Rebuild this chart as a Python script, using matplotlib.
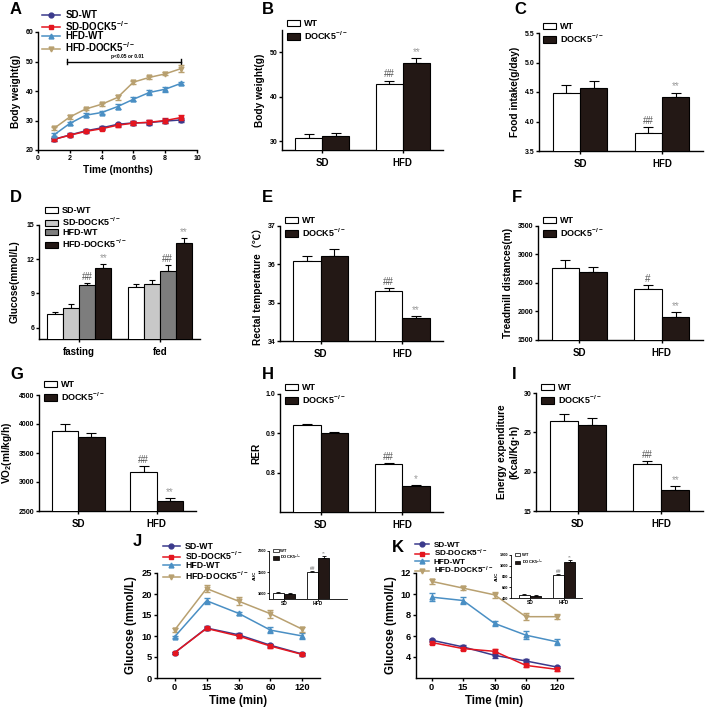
import matplotlib
matplotlib.use("Agg")
import matplotlib.pyplot as plt
from matplotlib.patches import Patch

plt.rcParams['font.family'] = ['Liberation Sans', 'Noto Sans CJK SC', 'DejaVu Sans']
plt.rcParams['font.weight'] = 'bold'
plt.rcParams['axes.labelweight'] = 'bold'
plt.rcParams['mathtext.fontset'] = 'custom'
plt.rcParams['mathtext.rm'] = 'Liberation Sans:bold'
plt.rcParams['mathtext.bf'] = 'Liberation Sans:bold'
plt.rcParams['mathtext.default'] = 'rm'

KO = r'DOCK5$^{-/-}$'

# ---- data ----
months = [1, 2, 3, 4, 5, 6, 7, 8, 9]
bw_sd_wt = [23.6, 25.1, 26.5, 27.5, 28.7, 29.2, 29.3, 29.8, 30.2]
bw_sd_wt_err = [0.4, 0.5, 0.5, 0.5, 0.6, 0.6, 0.9, 0.7, 0.6]
bw_sd_ko = [23.6, 25.0, 26.3, 27.2, 28.4, 29.1, 29.4, 30.0, 31.0]
bw_sd_ko_err = [0.5, 0.5, 0.5, 0.5, 0.5, 0.6, 0.7, 0.7, 0.7]
bw_hfd_wt = [25.1, 29.0, 31.8, 32.7, 34.7, 37.2, 39.5, 40.6, 42.6]
bw_hfd_wt_err = [0.5, 0.6, 0.6, 0.6, 0.8, 0.6, 0.9, 0.9, 0.6]
bw_hfd_ko = [27.3, 31.2, 33.9, 35.5, 37.8, 43.0, 44.6, 45.8, 47.6]
bw_hfd_ko_err = [0.5, 0.8, 0.5, 0.6, 0.8, 0.5, 0.5, 0.5, 1.2]

diets = ['SD', 'HFD']
bw_wt, bw_wt_err = [30.7, 42.8], [0.8, 0.8]
bw_ko, bw_ko_err = [31.1, 47.6], [0.8, 1.0]
food_wt, food_wt_err = [4.48, 3.80], [0.14, 0.11]
food_ko, food_ko_err = [4.56, 4.42], [0.13, 0.07]

states = ['fasting', 'fed']
glu_sd_wt, glu_sd_wt_err = [7.15, 9.58], [0.25, 0.22]
glu_sd_ko, glu_sd_ko_err = [7.72, 9.85], [0.35, 0.30]
glu_hfd_wt, glu_hfd_wt_err = [9.72, 11.0], [0.15, 0.50]
glu_hfd_ko, glu_hfd_ko_err = [11.2, 13.4], [0.40, 0.45]

temp_wt, temp_wt_err = [36.08, 35.30], [0.14, 0.08]
temp_ko, temp_ko_err = [36.22, 34.60], [0.18, 0.04]
dist_wt, dist_wt_err = [2770, 2400], [125, 70]
dist_ko, dist_ko_err = [2700, 1900], [80, 85]
vo2_wt, vo2_wt_err = [3880, 3170], [120, 100]
vo2_ko, vo2_ko_err = [3770, 2680], [70, 45]
rer_wt, rer_wt_err = [0.922, 0.821], [0.002, 0.003]
rer_ko, rer_ko_err = [0.900, 0.767], [0.003, 0.002]
ee_wt, ee_wt_err = [26.4, 21.0], [0.9, 0.35]
ee_ko, ee_ko_err = [25.95, 17.7], [0.85, 0.45]

tt_times = ['0', '15', '30', '60', '120']
gtt_sd_wt = [6.0, 11.9, 10.3, 7.8, 5.7]
gtt_sd_wt_err = [0.3, 0.4, 0.4, 0.4, 0.3]
gtt_sd_ko = [6.0, 11.8, 10.0, 7.6, 5.6]
gtt_sd_ko_err = [0.3, 0.4, 0.5, 0.5, 0.3]
gtt_hfd_wt = [9.8, 18.4, 15.4, 11.4, 10.0]
gtt_hfd_wt_err = [0.3, 0.7, 0.4, 0.7, 0.6]
gtt_hfd_ko = [11.4, 21.3, 18.3, 15.3, 11.6]
gtt_hfd_ko_err = [0.4, 0.8, 0.9, 0.9, 0.6]

itt_sd_wt = [5.6, 4.96, 4.16, 3.62, 3.04]
itt_sd_wt_err = [0.15, 0.15, 0.3, 0.15, 0.12]
itt_sd_ko = [5.38, 4.8, 4.54, 3.2, 2.82]
itt_sd_ko_err = [0.15, 0.15, 0.2, 0.15, 0.12]
itt_hfd_wt = [9.7, 9.38, 7.2, 6.08, 5.44]
itt_hfd_wt_err = [0.35, 0.35, 0.2, 0.4, 0.3]
itt_hfd_ko = [11.2, 10.56, 9.92, 7.84, 7.84]
itt_hfd_ko_err = [0.2, 0.2, 0.3, 0.35, 0.25]

auc_gtt_wt, auc_gtt_wt_err = [1005, 1500], [10, 25]
auc_gtt_ko, auc_gtt_ko_err = [990, 1830], [10, 45]
auc_itt_wt, auc_itt_wt_err = [460, 820], [15, 20]
auc_itt_ko, auc_itt_ko_err = [445, 1070], [15, 30]

# ---- styles ----
W = H = 709
C_SD_WT = '#3b3a8c'
C_SD_KO = '#e4151f'
C_HFD_WT = '#4a8fc4'
C_HFD_KO = '#b8a070'
BLACK_BAR = '#231815'
MARK_DARK = '#555555'
MARK_LIGHT = '#9a9a9a'

fig = plt.figure(figsize=(7.09, 7.09), dpi=100)


def add_ax(l, t, r, b, ls=5):
    ax = fig.add_axes([l / W, 1 - b / H, (r - l) / W, (b - t) / H])
    ax.spines[['top', 'right']].set_visible(False)
    ax.spines['left'].set_linewidth(1.0)
    ax.spines['bottom'].set_linewidth(1.0)
    ax.tick_params(direction='out', length=2.5, width=1, labelsize=ls, pad=1)
    return ax


def letter(x, y, s):
    fig.text(x / W, 1 - y / H, s, fontsize=12, fontweight='bold', ha='left', va='center')


def bar_legend(ax, x, y, labels, colors, fs=6.5, sp=0.15):
    handles = [Patch(facecolor=c, edgecolor='black', linewidth=0.8) for c in colors]
    ax.legend(handles, labels, loc='upper left', bbox_to_anchor=(x / W, 1 - y / H),
              bbox_transform=fig.transFigure, frameon=False, fontsize=fs,
              handlelength=1.4, handleheight=0.7, handletextpad=0.5,
              labelspacing=sp, borderpad=0, borderaxespad=0)


def bars(ax, xs, vals, errs, color, width, marks=None, msize=7, cap=3.5, ew=0.8):
    ax.bar(xs, vals, width, color=color, edgecolor='black', linewidth=ew, zorder=3)
    ax.errorbar(xs, vals, yerr=[[0] * len(vals), errs], fmt='none', ecolor='black',
                elinewidth=ew, capsize=cap, capthick=ew, zorder=2)
    if marks:
        span = ax.get_ylim()[1] - ax.get_ylim()[0]
        for x, v, e, m in zip(xs, vals, errs, marks):
            if m:
                col = MARK_DARK if m.startswith('#') else MARK_LIGHT
                ax.text(x, v + e + span * 0.01, m, ha='center', va='bottom',
                        fontsize=msize, color=col, fontweight='normal')


def two_group(ax, wt, wt_err, ko, ko_err, ylim, yticks, ylabel, marks_wt, marks_ko,
              yfmt=None):
    ax.set_xlim(-0.5, 1.5)
    ax.set_ylim(*ylim)
    w = 0.335
    bars(ax, [i - w / 2 for i in range(2)], wt, wt_err, 'white', w, marks_wt)
    bars(ax, [i + w / 2 for i in range(2)], ko, ko_err, BLACK_BAR, w, marks_ko)
    ax.set_xticks(range(2))
    ax.set_xticklabels(diets, fontsize=7)
    ax.tick_params(axis='x', pad=3)
    ax.set_yticks(yticks)
    if yfmt:
        ax.set_yticklabels([yfmt.format(v) for v in yticks])
    ax.set_ylabel(ylabel, fontsize=7.3, labelpad=3)


def lines(ax, x, series, ms=4, lw=1.1):
    handles = []
    for vals, errs, color, marker, label in series:
        ax.errorbar(x, vals, yerr=errs, fmt='none', ecolor=color, elinewidth=1,
                    capsize=2, capthick=1, zorder=3)
        h, = ax.plot(x, vals, color=color, marker=marker, markersize=ms, lw=lw,
                     markeredgecolor=color, zorder=4, label=label)
        handles.append(h)
    return handles


def line_legend(ax, handles, x, y, fs, hl=1.8):
    ax.legend(handles=handles, loc='upper left', bbox_to_anchor=(x / W, 1 - y / H),
              bbox_transform=fig.transFigure, frameon=False, fontsize=fs,
              handlelength=hl, handletextpad=0.6, labelspacing=-0.12,
              borderpad=0, borderaxespad=0)


# ---- A: body weight over time ----
ax = add_ax(38, 32, 197, 150)
ax.set_xlim(0, 10)
ax.set_ylim(20, 60)
ax.set_xticks([0, 2, 4, 6, 8, 10])
ax.set_yticks([20, 30, 40, 50, 60])
hs = lines(ax, months, [
    (bw_sd_wt, bw_sd_wt_err, C_SD_WT, 'o', 'SD-WT'),
    (bw_sd_ko, bw_sd_ko_err, C_SD_KO, 's', 'SD-' + KO),
    (bw_hfd_wt, bw_hfd_wt_err, C_HFD_WT, '^', 'HFD-WT'),
    (bw_hfd_ko, bw_hfd_ko_err, C_HFD_KO, 'v', 'HFD-' + KO),
], ms=3.5)
ax.plot([1.8, 9], [50, 50], color='black', lw=1)
ax.plot([1.8, 1.8], [49.3, 50.7], color='black', lw=1)
ax.plot([9, 9], [49.3, 50.7], color='black', lw=1)
ax.text(5.6, 50.8, 'p<0.05 or 0.01', fontsize=3.5, ha='center', va='bottom')
ax.set_xlabel('Time (months)', fontsize=7.3, labelpad=2)
ax.set_ylabel('Body weight(g)', fontsize=7.3, labelpad=3)
line_legend(ax, hs, 42, 10, 7.0)
letter(10, 10, 'A')

# ---- B ----
ax = add_ax(282, 30, 443, 150)
two_group(ax, bw_wt, bw_wt_err, bw_ko, bw_ko_err, (28, 55), [30, 40, 50],
          'Body weight(g)', [None, '##'], [None, '**'])
bar_legend(ax, 287, 19, ['WT', KO], ['white', BLACK_BAR])
letter(262, 10, 'B')

# ---- C ----
ax = add_ax(539, 33, 703, 151)
two_group(ax, food_wt, food_wt_err, food_ko, food_ko_err, (3.5, 5.5),
          [3.5, 4.0, 4.5, 5.0, 5.5], 'Food intake(g/day)', [None, '##'], [None, '**'],
          yfmt='{:.1f}')
bar_legend(ax, 543, 22, ['WT', KO], ['white', BLACK_BAR])
letter(514, 10, 'C')

# ---- D ----
ax = add_ax(39, 225, 200, 339)
ax.set_xlim(-0.5, 1.5)
ax.set_ylim(5, 15)
w = 0.2
gl = [(glu_sd_wt, glu_sd_wt_err, 'white', None),
      (glu_sd_ko, glu_sd_ko_err, '#c8c8c8', None),
      (glu_hfd_wt, glu_hfd_wt_err, '#7d7d7d', '##'),
      (glu_hfd_ko, glu_hfd_ko_err, BLACK_BAR, '**')]
for k, (v, e, c, m) in enumerate(gl):
    off = (k - 1.5) * w
    bars(ax, [i + off for i in range(2)], v, e, c, w, [m, m], cap=2.5)
ax.set_xticks(range(2))
ax.set_xticklabels(states, fontsize=7)
ax.tick_params(axis='x', pad=3)
ax.set_yticks([6, 9, 12, 15])
ax.set_ylabel('Glucose(mmol/L)', fontsize=7.3, labelpad=5)
bar_legend(ax, 45, 206, ['SD-WT', 'SD-' + KO, 'HFD-WT', 'HFD-' + KO],
           ['white', '#c8c8c8', '#7d7d7d', BLACK_BAR], fs=6.5, sp=0.05)
letter(10, 198, 'D')

# ---- E ----
ax = add_ax(280, 226, 443, 341)
two_group(ax, temp_wt, temp_wt_err, temp_ko, temp_ko_err, (34, 37), [34, 35, 36, 37],
          'Rectal temperature（℃）', [None, '##'], [None, '**'])
bar_legend(ax, 285, 216, ['WT', KO], ['white', BLACK_BAR])
letter(262, 198, 'E')

# ---- F ----
ax = add_ax(538, 226, 703, 340)
two_group(ax, dist_wt, dist_wt_err, dist_ko, dist_ko_err, (1500, 3500),
          [1500, 2000, 2500, 3000, 3500], 'Treadmill distances(m)',
          [None, '#'], [None, '**'])
bar_legend(ax, 543, 216, ['WT', KO], ['white', BLACK_BAR])
letter(512, 198, 'F')

# ---- G ----
ax = add_ax(39, 395, 196, 511)
two_group(ax, vo2_wt, vo2_wt_err, vo2_ko, vo2_ko_err, (2500, 4500),
          [2500, 3000, 3500, 4000, 4500], r'VO$_2$(ml/kg/h)', [None, '##'], [None, '**'])
bar_legend(ax, 44, 380, ['WT', KO], ['white', BLACK_BAR])
letter(10, 375, 'G')

# ---- H ----
ax = add_ax(280, 394, 443, 512)
two_group(ax, rer_wt, rer_wt_err, rer_ko, rer_ko_err, (0.7, 1.0), [0.8, 0.9, 1.0],
          'RER', [None, '##'], [None, '*'], yfmt='{:.1f}')
bar_legend(ax, 285, 383, ['WT', KO], ['white', BLACK_BAR])
letter(262, 375, 'H')

# ---- I ----
ax = add_ax(536, 393, 703, 511)
two_group(ax, ee_wt, ee_wt_err, ee_ko, ee_ko_err, (15, 30), [15, 20, 25, 30],
          'Energy expenditure\n(Kcal/Kg·h)', [None, '##'], [None, '**'])
bar_legend(ax, 541, 383, ['WT', KO], ['white', BLACK_BAR])
letter(512, 375, 'I')


def inset(l, t, r, b, wt, wt_err, ko, ko_err, ylim, yticks, xlim):
    ax = add_ax(l, t, r, b, ls=2.8)
    for s in ('left', 'bottom'):
        ax.spines[s].set_linewidth(0.6)
    ax.tick_params(length=1.2, width=0.6, pad=0.5)
    ax.set_xlim(*xlim)
    ax.set_ylim(*ylim)
    w = 0.33
    bars(ax, [i - w / 2 for i in range(2)], wt, wt_err, 'white', w, [None, '##'],
         msize=3.5, cap=1.5, ew=0.6)
    bars(ax, [i + w / 2 for i in range(2)], ko, ko_err, BLACK_BAR, w, [None, '**'],
         msize=3.5, cap=1.5, ew=0.6)
    ax.set_xticks(range(2))
    ax.set_xticklabels(diets, fontsize=3.5)
    ax.set_yticks(yticks)
    ax.set_ylabel('AUC', fontsize=3.2, labelpad=1)
    handles = [Patch(facecolor=c, edgecolor='black', linewidth=0.5) for c in ('white', BLACK_BAR)]
    ax.legend(handles, ['WT', KO], loc='upper left', bbox_to_anchor=(0.05, 1.05),
              frameon=False, fontsize=3, handlelength=1.4, handleheight=0.8,
              handletextpad=0.4, labelspacing=0.1, borderpad=0, borderaxespad=0)
    return ax


# ---- J: GTT ----
ax = add_ax(157, 573, 320, 678, ls=6.7)
ax.set_xlim(-0.55, 4.55)
ax.set_ylim(0, 25)
xs = list(range(len(tt_times)))
hs = lines(ax, xs, [
    (gtt_sd_wt, gtt_sd_wt_err, C_SD_WT, 'o', 'SD-WT'),
    (gtt_sd_ko, gtt_sd_ko_err, C_SD_KO, 's', 'SD-' + KO),
    (gtt_hfd_wt, gtt_hfd_wt_err, C_HFD_WT, '^', 'HFD-WT'),
    (gtt_hfd_ko, gtt_hfd_ko_err, C_HFD_KO, 'v', 'HFD-' + KO),
], ms=3.5)
ax.set_xticks(xs)
ax.set_xticklabels(tt_times)
ax.set_yticks([0, 5, 10, 15, 20, 25])
ax.set_xlabel('Time (min)', fontsize=8.3, labelpad=2)
ax.set_ylabel('Glucose (mmol/L)', fontsize=8.3, labelpad=3)
line_legend(ax, hs, 163, 542, 6.3, hl=1.9)
letter(133, 542, 'J')
inset(269, 551, 347, 599, auc_gtt_wt, auc_gtt_wt_err, auc_gtt_ko, auc_gtt_ko_err,
      (860, 2000), [1000, 1500, 2000], (-0.44, 1.85))

# ---- K: ITT ----
ax = add_ax(416, 573, 573, 678, ls=6.7)
ax.set_xlim(-0.5, 4.5)
ax.set_ylim(2, 12)
hs = lines(ax, xs, [
    (itt_sd_wt, itt_sd_wt_err, C_SD_WT, 'o', 'SD-WT'),
    (itt_sd_ko, itt_sd_ko_err, C_SD_KO, 's', 'SD-' + KO),
    (itt_hfd_wt, itt_hfd_wt_err, C_HFD_WT, '^', 'HFD-WT'),
    (itt_hfd_ko, itt_hfd_ko_err, C_HFD_KO, 'v', 'HFD-' + KO),
], ms=3.5)
ax.set_xticks(xs)
ax.set_xticklabels(tt_times)
ax.set_yticks([4, 6, 8, 10, 12])
ax.set_xlabel('Time (min)', fontsize=8.3, labelpad=2)
ax.set_ylabel('Glucose (mmol/L)', fontsize=8.3, labelpad=3)
line_legend(ax, hs, 415, 541, 5.9, hl=1.7)
letter(392, 548, 'K')
inset(511, 555, 582, 598, auc_itt_wt, auc_itt_wt_err, auc_itt_ko, auc_itt_ko_err,
      (400, 1200), [400, 600, 800, 1000, 1200], (-0.56, 1.53))

fig.savefig('out.png', dpi=100)
